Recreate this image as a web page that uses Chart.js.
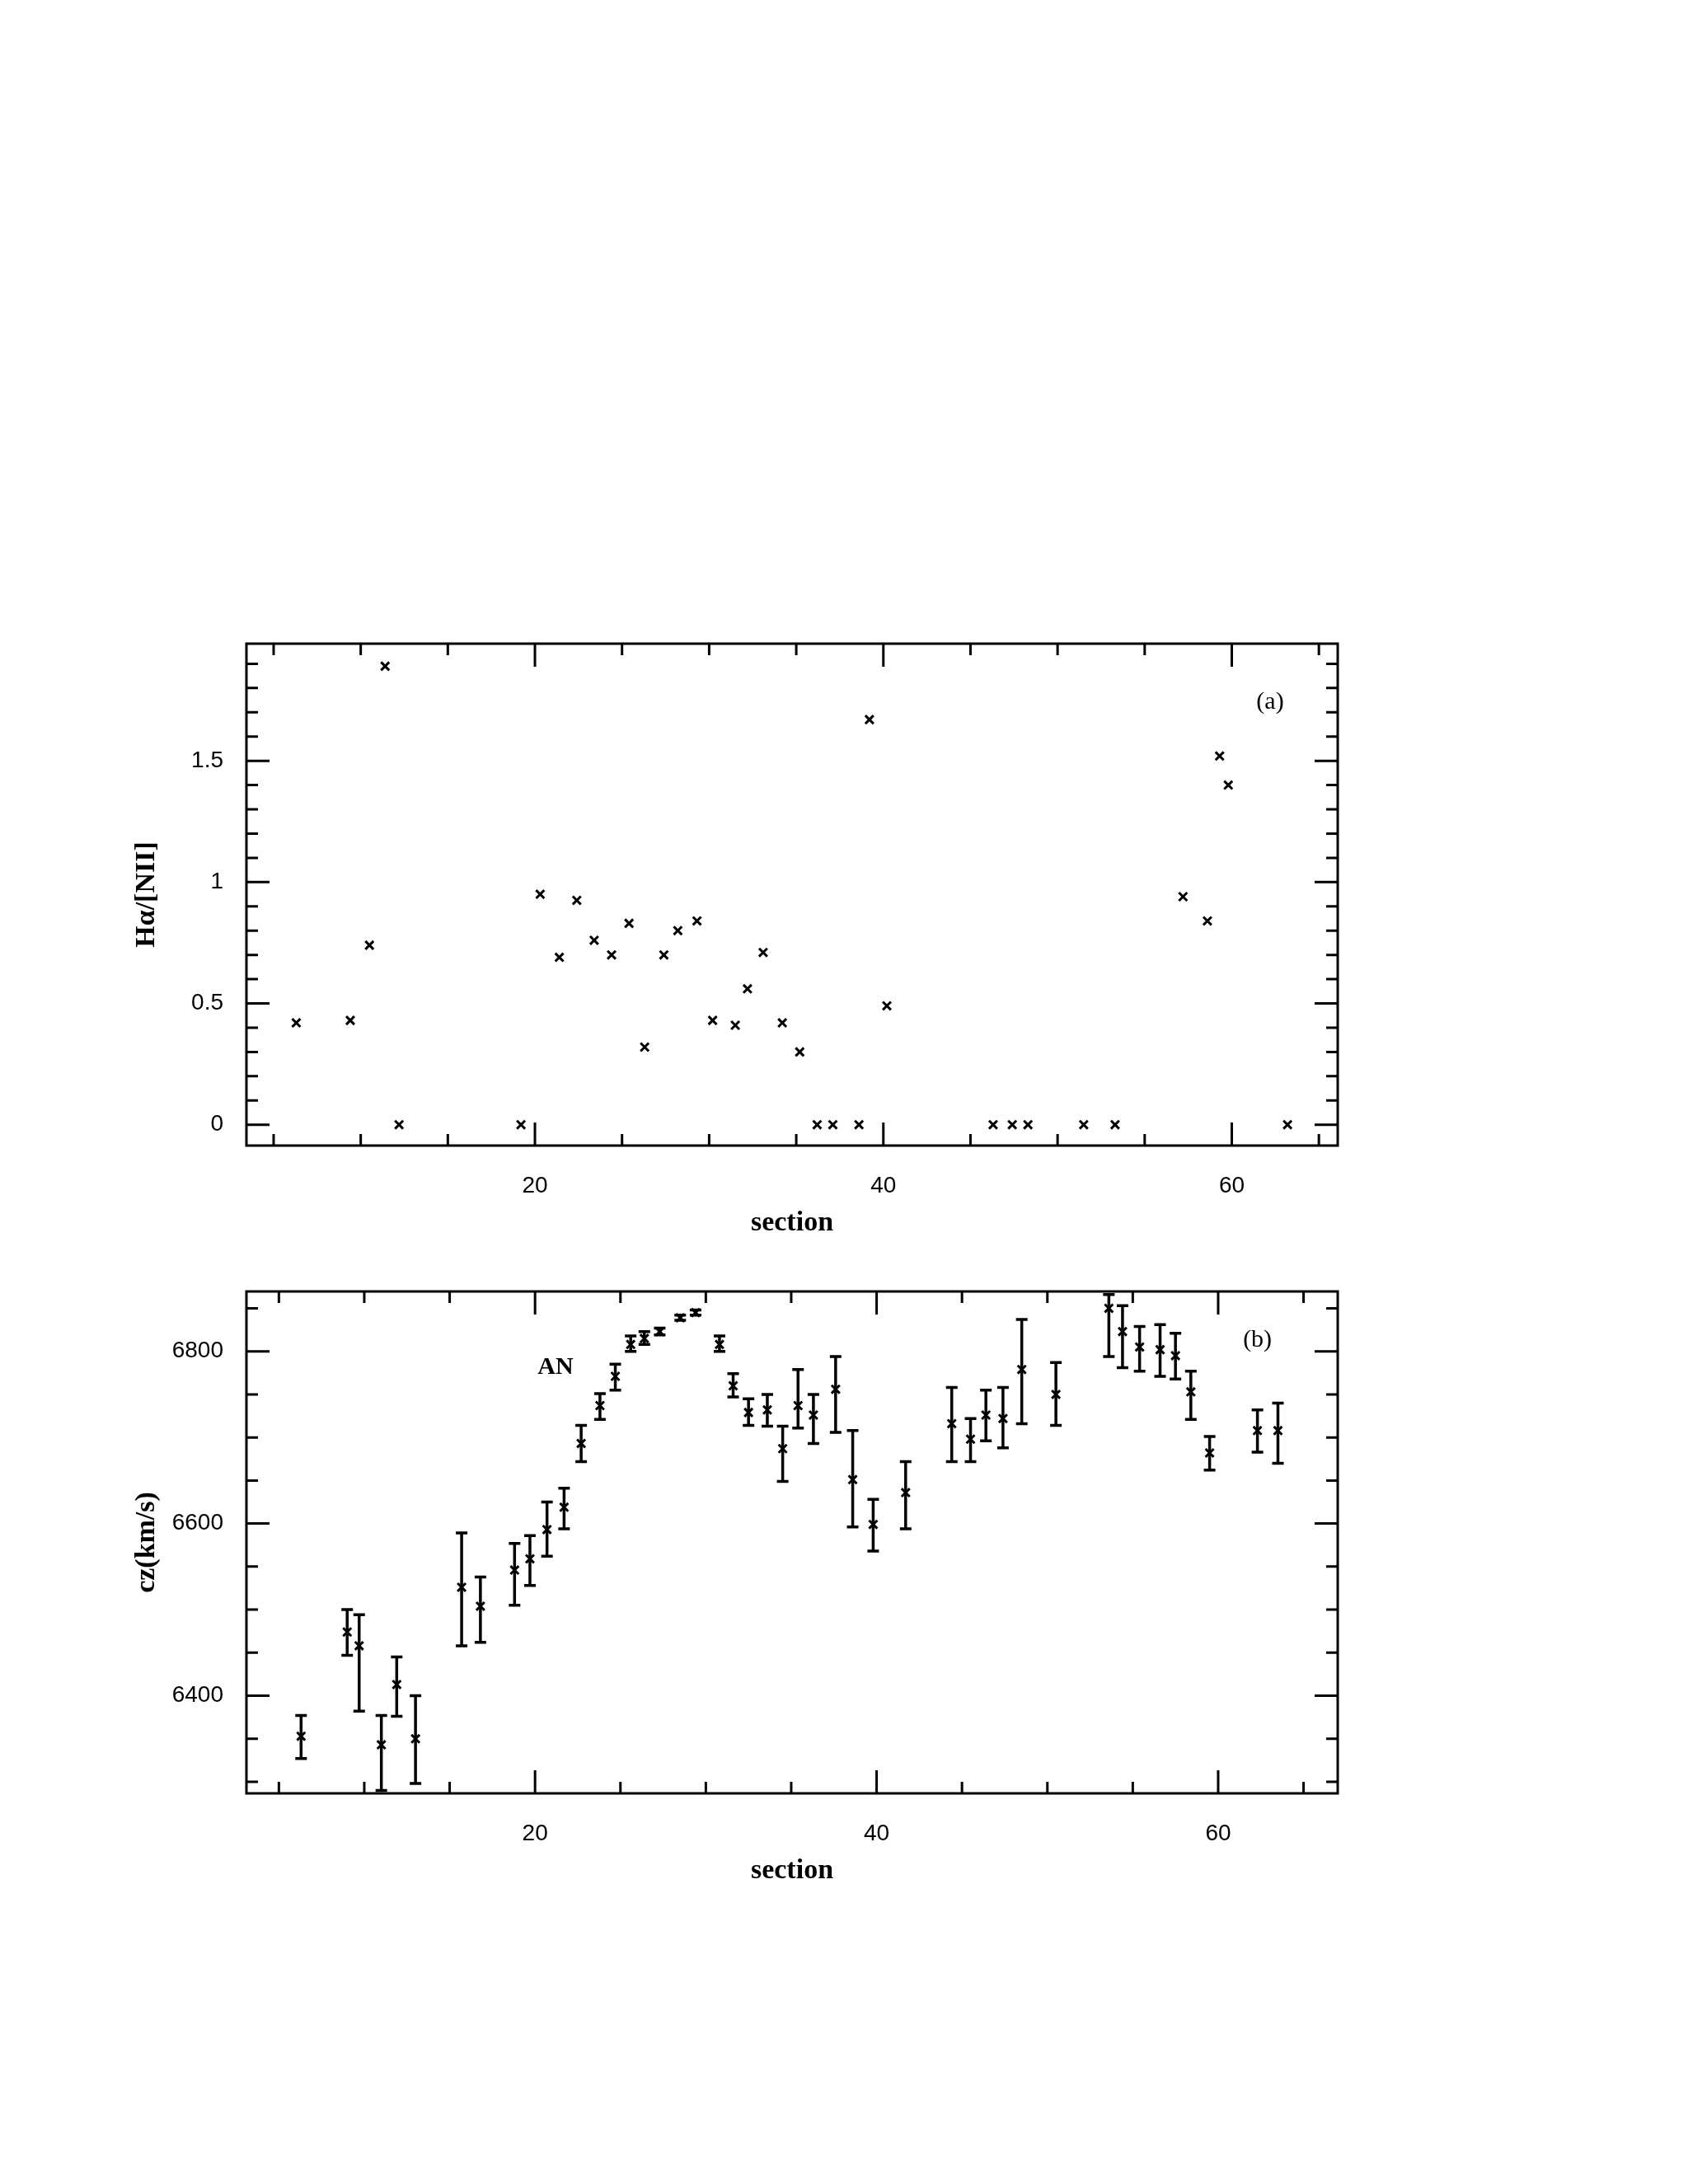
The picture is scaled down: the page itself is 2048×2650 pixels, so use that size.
<!DOCTYPE html>
<html><head><meta charset="utf-8">
<script src="https://cdn.jsdelivr.net/npm/chart.js@4/dist/chart.umd.min.js"></script>
<style>body{margin:0;background:#fff;width:2048px;height:2650px;position:relative}
canvas{position:absolute;left:0}</style></head><body>
<div style="position:absolute;left:0;top:600px;width:2048px;height:900px"><canvas id="ca"></canvas></div>
<div style="position:absolute;left:0;top:1450px;width:2048px;height:900px"><canvas id="cb"></canvas></div>
<script>
const secA=[6.3,9.4,10.5,11.4,12.2,19.2,20.3,21.4,22.4,23.4,24.4,25.4,26.3,27.4,28.2,29.3,30.2,31.5,32.2,33.1,34.2,35.2,36.2,37.1,38.6,39.2,40.2,46.3,47.4,48.3,51.5,53.3,57.2,58.6,59.3,59.8,63.2];
const ratioA=[0.42,0.43,0.74,1.89,0,0,0.95,0.69,0.925,0.76,0.70,0.83,0.32,0.70,0.80,0.84,0.43,0.41,0.56,0.71,0.42,0.30,0,0,0,1.67,0.49,0,0,0,0,0,0.94,0.84,1.52,1.40,0];
const secB=[6.3,9.0,9.7,11.0,11.9,13.0,15.7,16.8,18.8,19.7,20.7,21.7,22.7,23.8,24.7,25.6,26.4,27.3,28.5,29.4,30.8,31.6,32.5,33.6,34.5,35.4,36.3,37.6,38.6,39.8,41.7,44.4,45.5,46.4,47.4,48.5,50.5,53.6,54.4,55.4,56.6,57.5,58.4,59.5,62.3,63.5];
const czB=[6353,6474,6458,6343,6413,6350,6526,6504,6546,6559,6593,6619,6693,6737,6771,6808,6815,6823,6839,6845,6808,6760,6729,6732,6687,6737,6726,6756,6651,6599,6636,6716,6698,6726,6722,6779,6750,6850,6823,6805,6802,6795,6753,6682,6708,6708];
const czHi=[6377,6500,6494,6377,6445,6400,6589,6538,6577,6586,6625,6641,6714,6751,6785,6818,6823,6827,6842,6848,6818,6774,6745,6750,6713,6779,6750,6794,6708,6628,6672,6758,6722,6755,6758,6837,6787,6866,6853,6829,6831,6821,6777,6701,6732,6740];
const czLo=[6327,6447,6382,6290,6376,6298,6458,6462,6505,6528,6562,6594,6672,6721,6755,6800,6808,6819,6836,6842,6800,6747,6714,6713,6649,6711,6693,6706,6596,6568,6594,6672,6672,6696,6688,6716,6714,6794,6781,6777,6771,6768,6721,6662,6683,6670];
const xTicks=[20,40,60];
const yTicksA=[0,0.5,1,1.5];
const yTicksB=[6400,6600,6800];

const sans='"Liberation Sans", Arial, sans-serif';
const serif='"Liberation Serif","DejaVu Serif", serif';

function frame(opt){return {id:'frame',afterDatasetsDraw(c){
  const {ctx,chartArea:a,scales:{x,y}}=c;
  ctx.save();ctx.strokeStyle='#000';ctx.lineWidth=3;
  ctx.strokeRect(a.left,a.top,a.right-a.left,a.bottom-a.top);
  const tick=(v,len,axis)=>{
    if(axis==='x'){const p=x.getPixelForValue(v);
      ctx.beginPath();ctx.moveTo(p,a.bottom);ctx.lineTo(p,a.bottom-len);ctx.moveTo(p,a.top);ctx.lineTo(p,a.top+len);ctx.stroke();}
    else{const p=y.getPixelForValue(v);
      ctx.beginPath();ctx.moveTo(a.left,p);ctx.lineTo(a.left+len,p);ctx.moveTo(a.right,p);ctx.lineTo(a.right-len,p);ctx.stroke();}
  };
  for(let v=5;v<x.max;v+=5) tick(v,(v%20===0)?28:14,'x');
  for(let i=Math.ceil(y.min/opt.ym);i*opt.ym<y.max;i++){const v=i*opt.ym;tick(v,(Math.abs(v/opt.yM-Math.round(v/opt.yM))<1e-6)?28:14,'y');}
  if(opt.err){ctx.lineWidth=3.5;
    opt.err.lo.forEach((lo,i)=>{const px=x.getPixelForValue(opt.err.x[i]);
      const pl=Math.min(y.getPixelForValue(lo),a.bottom),ph=Math.max(y.getPixelForValue(opt.err.hi[i]),a.top);
      ctx.beginPath();ctx.moveTo(px,pl);ctx.lineTo(px,ph);
      ctx.moveTo(px-7,pl);ctx.lineTo(px+7,pl);ctx.moveTo(px-7,ph);ctx.lineTo(px+7,ph);ctx.stroke();});}
  ctx.fillStyle='#000';ctx.textAlign='center';ctx.textBaseline='middle';
  opt.labels.forEach(l=>{ctx.font=l.font;ctx.fillText(l.t,x.getPixelForValue(l.x),y.getPixelForValue(l.y));});
  ctx.font='bold 34px '+serif;
  ctx.fillText('section',(a.left+a.right)/2,a.bottom+94);
  ctx.translate(178,(a.top+a.bottom)/2);ctx.rotate(-Math.PI/2);
  ctx.fillText(opt.ytitle,0,0);
  ctx.restore();}};}

function make(id,xs,ys,xmin,xmax,ymin,ymax,yt,fmt,pad,xh,opt){
  new Chart(document.getElementById(id),{type:'scatter',
    data:{datasets:[{data:xs.map((v,i)=>({x:v,y:ys[i]})),pointStyle:'crossRot',radius:7,borderWidth:3,borderColor:'#000',backgroundColor:'#000'}]},
    options:{responsive:true,maintainAspectRatio:false,animation:false,
      layout:{padding:{left:0,right:425,top:pad,bottom:0}},
      plugins:{legend:{display:false},tooltip:{enabled:false}},
      scales:{
        x:{type:'linear',min:xmin,max:xmax,grid:{display:false},border:{display:false},
          afterBuildTicks:s=>{s.ticks=xTicks.map(v=>({value:v}));},
          afterFit:s=>{s.height=xh;},
          ticks:{color:'#000',font:{family:sans,size:28},padding:24}},
        y:{type:'linear',min:ymin,max:ymax,grid:{display:false},border:{display:false},
          afterBuildTicks:s=>{s.ticks=yt.map(v=>({value:v}));},
          afterFit:s=>{s.width=299;},
          ticks:{color:'#000',font:{family:sans,size:28},padding:20,callback:fmt}}}},
    plugins:[frame(opt)]});
}
make('ca',secA,ratioA,3.44,66.08,-0.086,1.983,yTicksA,v=>String(v),181,110,
  {ym:0.1,yM:0.5,ytitle:'Hα/[NII]',labels:[{t:'(a)',x:62.2,y:1.74,font:'30px '+serif}]});
make('cb',secB,czB,3.1,67.0,6286.6,6869.6,yTicksB,v=>String(v),117,174,
  {ym:50,yM:200,ytitle:'cz(km/s)',err:{x:secB,lo:czLo,hi:czHi},labels:[{t:'(b)',x:62.3,y:6813,font:'30px '+serif},{t:'AN',x:21.2,y:6781,font:'bold 30px '+serif}]});
</script></body></html>
